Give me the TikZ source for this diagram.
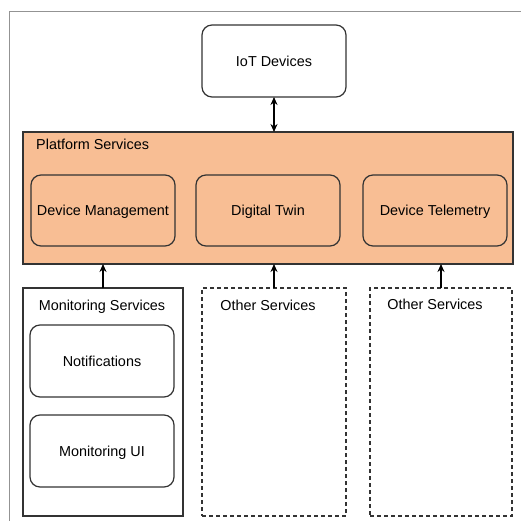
\documentclass[tikz,border=0pt]{standalone}
\usepackage{fontspec}
\setmainfont{Liberation Sans}
\usepackage{xcolor}
\usetikzlibrary{
    arrows.meta,
    positioning,
    calc
}
\definecolor{platfill}{RGB}{248,190,148}
\definecolor{edge}{RGB}{51,51,51}

\begin{document}
\begin{tikzpicture}[x=1pt, y=-1pt,
    font=\fontsize{14.4}{17}\selectfont,
    every node/.style={text depth=0pt},
    svcbox/.style={draw=edge, line width=1.2pt, rounded corners=10pt, fill=white, minimum width=144pt, minimum height=72pt, inner sep=0pt, outer sep=0pt},
    groupbox/.style={draw=edge, line width=1.2pt, minimum width=#1, minimum height=228pt, inner sep=0pt, outer sep=0pt},
    otherbox/.style={groupbox=#1, dash pattern=on 4pt off 3pt},
    flow/.style={line width=1.3pt, -{Stealth[length=8pt, width=7pt]}}
]
    \useasboundingbox (0, 0) rectangle (521, 521);
    \draw[gray!85, line width=1pt] (9.5, 521) -- (9.5, 12) -- (521, 12);

    \node[svcbox] (iot) at (274, 61) {IoT Devices};

    \node[draw=edge, line width=1.2pt, fill=platfill, minimum width=490pt, minimum height=132pt, inner sep=0pt, outer sep=0pt] (plat) at (268, 198) {};
    \node[anchor=base west, inner sep=0pt] (platlbl) at (36, 150) {Platform Services};
    \node[svcbox, minimum height=71pt, fill=platfill] (devmgmt) at (103, 210.5) {Device Management};
    \node[svcbox, minimum height=71pt, fill=platfill] (twin) at (268, 210.5) {Digital Twin};
    \node[svcbox, minimum height=71pt, fill=platfill] (telem) at (435, 210.5) {Device Telemetry};

    \node[groupbox=160pt] (mon) at (103, 402) {};
    \node (monlbl) at (102, 305) {Monitoring Services};
    \node[svcbox] (notif) at (102, 361) {Notifications};
    \node[svcbox] (monui) at (102, 451) {Monitoring UI};

    \node[otherbox=144pt] (other1) at (274, 402) {};
    \node (other1lbl) at (268, 305) {Other Services};
    \node[otherbox=142pt] (other2) at (441, 402) {};
    \node (other2lbl) at (435, 304) {Other Services};

    \draw[flow, {Stealth[length=8pt, width=7pt]}-{Stealth[length=8pt, width=7pt]}] (iot.south) -- (iot.south |- plat.north);
    \draw[flow] (mon.north) -- (mon.north |- plat.south);
    \draw[flow] (other1.north) -- (other1.north |- plat.south);
    \draw[flow] (other2.north) -- (other2.north |- plat.south);
\end{tikzpicture}
\end{document}
